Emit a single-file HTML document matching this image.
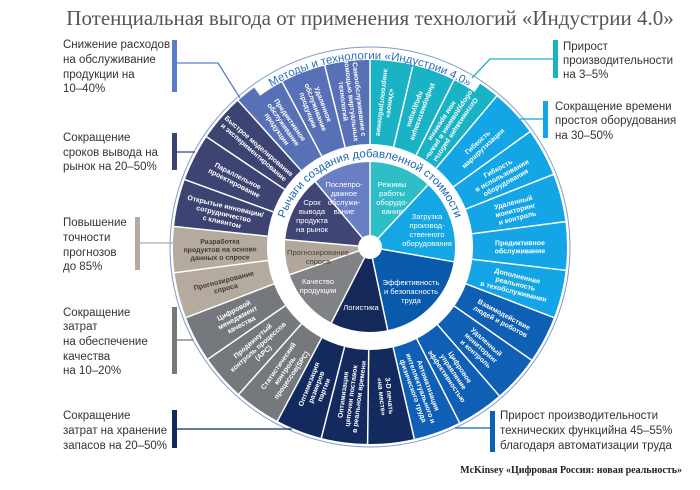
<!DOCTYPE html>
<html><head><meta charset="utf-8"><style>
html,body{margin:0;padding:0;background:#fff;width:700px;height:490px;overflow:hidden}
svg{display:block}
.lab{font-family:"Liberation Sans",sans-serif;font-size:11.5px;fill:#333}
.seg{font-family:"Liberation Sans",sans-serif;font-size:7px;font-weight:bold;fill:#fff;text-anchor:middle}
.in{font-family:"Liberation Sans",sans-serif;font-size:7.6px;fill:#fff;text-anchor:middle}
</style></head><body>
<svg width="700" height="490" viewBox="0 0 700 490" xmlns="http://www.w3.org/2000/svg">
<text x="370" y="25" text-anchor="middle" style="font-family:'Liberation Serif',serif;font-size:21px;fill:#555">Потенциальная выгода от применения технологий «Индустрии 4.0»</text>

<circle cx="370" cy="247" r="200" fill="none" stroke="#7f9bc6" stroke-width="1"/>
<g transform="translate(370 247)">
 <g fill="none" stroke-width="94">
  <circle r="150" stroke="#1ab3c5" stroke-dasharray="104.7 2000" transform="rotate(-90)"/>
  <circle r="150" stroke="#14a5e6" stroke-dasharray="185.9 2000" transform="rotate(-50)"/>
  <circle r="150" stroke="#0f5fb4" stroke-dasharray="146.6 2000" transform="rotate(21)"/>
  <circle r="150" stroke="#132a5e" stroke-dasharray="107.3 2000" transform="rotate(77)"/>
  <circle r="150" stroke="#75787d" stroke-dasharray="107.3 2000" transform="rotate(118)"/>
  <circle r="150" stroke="#b5aa9e" stroke-dasharray="70.7 2000" transform="rotate(159)"/>
  <circle r="150" stroke="#3e4472" stroke-dasharray="110 2000" transform="rotate(186)"/>
  <circle r="150" stroke="#5870b6" stroke-dasharray="110 2000" transform="rotate(228)"/>
 </g>
 <circle r="192.5" fill="none" stroke="#fff" stroke-width="11" stroke-dasharray="235 2000" transform="rotate(-126)"/>
 <g fill="none" stroke-width="85">
  <circle r="42.5" stroke="#2ebfc6" stroke-dasharray="31.9 2000" transform="rotate(-90)"/>
  <circle r="42.5" stroke="#15a6e4" stroke-dasharray="42.3 2000" transform="rotate(-47)"/>
  <circle r="42.5" stroke="#0a5aab" stroke-dasharray="50.4 2000" transform="rotate(10)"/>
  <circle r="42.5" stroke="#14285a" stroke-dasharray="28.9 2000" transform="rotate(78)"/>
  <circle r="42.5" stroke="#808285" stroke-dasharray="32.6 2000" transform="rotate(117)"/>
  <circle r="42.5" stroke="#b0a69a" stroke-dasharray="17.8 2000" transform="rotate(161)"/>
  <circle r="42.5" stroke="#3f4574" stroke-dasharray="33.4 2000" transform="rotate(185)"/>
  <circle r="42.5" stroke="#6a7ec6" stroke-dasharray="29.7 2000" transform="rotate(230)"/>
 </g>
 <circle r="12" fill="#fff"/>
 <g stroke="#fff" stroke-width="1.5">
  <line x1="103" x2="199" transform="rotate(-90)"/><line x1="103" x2="199" transform="rotate(-76.7)"/><line x1="103" x2="199" transform="rotate(-63.3)"/>
  <line x1="103" x2="199" transform="rotate(-50)"/><line x1="103" x2="199" transform="rotate(-35.8)"/><line x1="103" x2="199" transform="rotate(-21.6)"/><line x1="103" x2="199" transform="rotate(-7.4)"/><line x1="103" x2="199" transform="rotate(6.8)"/>
  <line x1="103" x2="199" transform="rotate(21)"/><line x1="103" x2="199" transform="rotate(35)"/><line x1="103" x2="199" transform="rotate(49)"/><line x1="103" x2="199" transform="rotate(63)"/>
  <line x1="103" x2="199" transform="rotate(77)"/><line x1="103" x2="199" transform="rotate(90.7)"/><line x1="103" x2="199" transform="rotate(104.3)"/>
  <line x1="103" x2="199" transform="rotate(118)"/><line x1="103" x2="199" transform="rotate(131.7)"/><line x1="103" x2="199" transform="rotate(145.3)"/>
  <line x1="103" x2="199" transform="rotate(159)"/><line x1="103" x2="199" transform="rotate(172.5)"/>
  <line x1="103" x2="199" transform="rotate(186)"/><line x1="103" x2="199" transform="rotate(200)"/><line x1="103" x2="199" transform="rotate(214)"/>
  <line x1="103" x2="199" transform="rotate(228)"/><line x1="103" x2="199" transform="rotate(242)"/><line x1="103" x2="199" transform="rotate(256)"/>
 </g>
 <g stroke="#fff" stroke-width="1.5">
  <line x1="12" x2="86" transform="rotate(-90)"/><line x1="12" x2="86" transform="rotate(-47)"/><line x1="12" x2="86" transform="rotate(10)"/><line x1="12" x2="86" transform="rotate(78)"/>
  <line x1="12" x2="86" transform="rotate(117)"/><line x1="12" x2="86" transform="rotate(161)"/><line x1="12" x2="86" transform="rotate(185)"/><line x1="12" x2="86" transform="rotate(230)"/>
 </g>

 <text class="seg" transform="rotate(-83.3) translate(145 0) rotate(180)"><tspan x="0" dy="-1">«Умное»</tspan><tspan x="0" dy="8">энергопотребление</tspan></text>
 <text class="seg" transform="rotate(-70) translate(145 0) rotate(180)"><tspan x="0" dy="-1">Информатизация</tspan><tspan x="0" dy="8">продукции</tspan></text>
 <text class="seg" transform="rotate(-56.7) translate(145 0) rotate(180)"><tspan x="0" dy="-5">Оптимизация работы</tspan><tspan x="0" dy="8">оборудования в реаль-</tspan><tspan x="0" dy="8">ном времени</tspan></text>
 <text class="seg" transform="rotate(-42.9) translate(150 0)"><tspan x="0" dy="-1">Гибкость</tspan><tspan x="0" dy="8">маршрутизации</tspan></text>
 <text class="seg" transform="rotate(-28.7) translate(150 0)"><tspan x="0" dy="-5">Гибкость</tspan><tspan x="0" dy="8">в использовании</tspan><tspan x="0" dy="8">оборудования</tspan></text>
 <text class="seg" transform="rotate(-14.5) translate(150 0)"><tspan x="0" dy="-5">Удаленный</tspan><tspan x="0" dy="8">мониторинг</tspan><tspan x="0" dy="8">и контроль</tspan></text>
 <text class="seg" transform="rotate(-0.3) translate(150 0)"><tspan x="0" dy="-1">Предиктивное</tspan><tspan x="0" dy="8">обслуживание</tspan></text>
 <text class="seg" transform="rotate(13.9) translate(150 0)"><tspan x="0" dy="-5">Дополненная</tspan><tspan x="0" dy="8">реальность</tspan><tspan x="0" dy="8">в техобслуживании</tspan></text>
 <text class="seg" transform="rotate(28) translate(150 0)"><tspan x="0" dy="-1">Взаимодействие</tspan><tspan x="0" dy="8">людей и роботов</tspan></text>
 <text class="seg" transform="rotate(42) translate(150 0)"><tspan x="0" dy="-5">Удаленный</tspan><tspan x="0" dy="8">мониторинг</tspan><tspan x="0" dy="8">и контроль</tspan></text>
 <text class="seg" transform="rotate(56) translate(150 0)"><tspan x="0" dy="-5">Цифровое</tspan><tspan x="0" dy="8">управление</tspan><tspan x="0" dy="8">эффективностью</tspan></text>
 <text class="seg" transform="rotate(70) translate(150 0)"><tspan x="0" dy="-5">Автоматизация</tspan><tspan x="0" dy="8">интеллектуального и</tspan><tspan x="0" dy="8">физического труда</tspan></text>
 <text class="seg" transform="rotate(83.8) translate(150 0)"><tspan x="0" dy="-1">3-D печать</tspan><tspan x="0" dy="8">«на месте»</tspan></text>
 <text class="seg" transform="rotate(97.5) translate(150 0) rotate(180)"><tspan x="0" dy="-5">Оптимизация</tspan><tspan x="0" dy="8">цепочки поставок</tspan><tspan x="0" dy="8">в реальном времени</tspan></text>
 <text class="seg" transform="rotate(111.2) translate(150 0) rotate(180)"><tspan x="0" dy="-5">Оптимизация</tspan><tspan x="0" dy="8">размеров</tspan><tspan x="0" dy="8">партии</tspan></text>
 <text class="seg" transform="rotate(124.8) translate(150 0) rotate(180)"><tspan x="0" dy="-5">Статистический</tspan><tspan x="0" dy="8">контроль</tspan><tspan x="0" dy="8">процессов(SPC)</tspan></text>
 <text class="seg" transform="rotate(138.5) translate(150 0) rotate(180)"><tspan x="0" dy="-5">Продвинутый</tspan><tspan x="0" dy="8">контроль процессов</tspan><tspan x="0" dy="8">(APC)</tspan></text>
 <text class="seg" transform="rotate(152.2) translate(150 0) rotate(180)"><tspan x="0" dy="-5">Цифровой</tspan><tspan x="0" dy="8">менеджмент</tspan><tspan x="0" dy="8">качества</tspan></text>
 <text class="seg" style="fill:#3d3a38" transform="rotate(165.8) translate(150 0) rotate(180)"><tspan x="0" dy="-1">Прогнозирование</tspan><tspan x="0" dy="8">спроса</tspan></text>
 <text class="seg" style="fill:#3d3a38" transform="rotate(179.3) translate(150 0) rotate(180)"><tspan x="0" dy="-5">Разработка</tspan><tspan x="0" dy="8">продуктов на основе</tspan><tspan x="0" dy="8">данных о спросе</tspan></text>
 <text class="seg" transform="rotate(193) translate(150 0) rotate(180)"><tspan x="0" dy="-5">Открытые инновации/</tspan><tspan x="0" dy="8">сотрудничество</tspan><tspan x="0" dy="8">с клиентом</tspan></text>
 <text class="seg" transform="rotate(207) translate(150 0) rotate(180)"><tspan x="0" dy="-1">Параллельное</tspan><tspan x="0" dy="8">проектирование</tspan></text>
 <text class="seg" transform="rotate(221) translate(150 0) rotate(180)"><tspan x="0" dy="-1">Быстрое моделирование</tspan><tspan x="0" dy="8">и экспериментирование</tspan></text>
 <text class="seg" transform="rotate(235) translate(150 0) rotate(180)"><tspan x="0" dy="-5">Предиктивное</tspan><tspan x="0" dy="8">обслуживание</tspan><tspan x="0" dy="8">продукции</tspan></text>
 <text class="seg" transform="rotate(249) translate(150 0) rotate(180)"><tspan x="0" dy="-5">Удаленное</tspan><tspan x="0" dy="8">обслуживание</tspan><tspan x="0" dy="8">продукции</tspan></text>
 <text class="seg" transform="rotate(263) translate(148 0) rotate(180)"><tspan x="0" dy="-5">Самообслуживание с</tspan><tspan x="0" dy="8">помощью виртуальных</tspan><tspan x="0" dy="8">технологий</tspan></text>
</g>

<defs>
 <path id="band" d="M281.4 231.4 A90 90 0 0 1 458.6 231.4"/>
 <path id="top" d="M237.1 114.1 A188 188 0 0 1 502.9 114.1"/>
</defs>
<text style="font-family:'Liberation Sans',sans-serif;font-size:11.5px;fill:#1e64b4"><textPath href="#band" startOffset="50%" text-anchor="middle">Рычаги создания добавленной стоимости</textPath></text>
<text style="font-family:'Liberation Sans',sans-serif;font-size:11.5px;fill:#2e6dbf"><textPath href="#top" startOffset="50%" text-anchor="middle">Методы и технологии «Индустрии 4.0»</textPath></text>

<text class="in" y="187"><tspan x="392">Режимы</tspan><tspan x="392" dy="9">работы</tspan><tspan x="392" dy="9">оборудо-</tspan><tspan x="392" dy="9">вания</tspan></text>
<text class="in" y="219"><tspan x="427">Загрузка</tspan><tspan x="427" dy="9">производ-</tspan><tspan x="427" dy="9">ственного</tspan><tspan x="427" dy="9">оборудования</tspan></text>
<text class="in" y="285"><tspan x="411">Эффективность</tspan><tspan x="411" dy="9">и безопасность</tspan><tspan x="411" dy="9">труда</tspan></text>
<text class="in" x="361" y="310">Логистика</text>
<text class="in" y="284"><tspan x="318">Качество</tspan><tspan x="318" dy="9">продукции</tspan></text>
<text class="in" y="255" style="fill:#4a4541"><tspan x="318">Прогнозирование</tspan><tspan x="318" dy="9">спроса</tspan></text>
<text class="in" y="205"><tspan x="312">Срок</tspan><tspan x="312" dy="9">вывода</tspan><tspan x="312" dy="9">продукта</tspan><tspan x="312" dy="9">на рынок</tspan></text>
<text class="in" y="187"><tspan x="344">Послепро-</tspan><tspan x="344" dy="9">дажное</tspan><tspan x="344" dy="9">обслужи-</tspan><tspan x="344" dy="9">вание</tspan></text>

<rect x="172" y="40" width="5" height="52" fill="#5b7dc6"/>
<polyline points="177,63 218,63 240,98" fill="none" stroke="#5b7dc6" stroke-width="1.3"/>
<text class="lab"><tspan x="63" y="48">Снижение расходов</tspan><tspan x="63" y="63">на обслуживание</tspan><tspan x="63" y="78">продукции на</tspan><tspan x="63" y="92">10–40%</tspan></text>

<rect x="172" y="133" width="5" height="37" fill="#3e4472"/>
<line x1="177" y1="152" x2="195" y2="152" stroke="#3e4472" stroke-width="1.3"/>
<text class="lab"><tspan x="63" y="141">Сокращение</tspan><tspan x="63" y="156">сроков вывода на</tspan><tspan x="63" y="170">рынок на 20–50%</tspan></text>

<rect x="135" y="217" width="5" height="53" fill="#b5aa9e"/>
<line x1="140" y1="243" x2="175" y2="243" stroke="#b5aa9e" stroke-width="1.3"/>
<text class="lab"><tspan x="63" y="226">Повышение</tspan><tspan x="63" y="241">точности</tspan><tspan x="63" y="256">прогнозов</tspan><tspan x="63" y="270">до 85%</tspan></text>

<rect x="172" y="307" width="5" height="67" fill="#75787d"/>
<line x1="177" y1="340" x2="193" y2="340" stroke="#75787d" stroke-width="1.3"/>
<text class="lab"><tspan x="63" y="316">Сокращение</tspan><tspan x="63" y="330">затрат</tspan><tspan x="63" y="345">на обеспечение</tspan><tspan x="63" y="360">качества</tspan><tspan x="63" y="374">на 10–20%</tspan></text>

<rect x="172" y="410" width="5" height="38" fill="#132a5e"/>
<line x1="177" y1="429" x2="292" y2="429" stroke="#132a5e" stroke-width="1.3"/>
<text class="lab"><tspan x="63" y="419">Сокращение</tspan><tspan x="63" y="434">затрат на хранение</tspan><tspan x="63" y="449">запасов на 20–50%</tspan></text>

<rect x="553" y="40" width="5" height="38" fill="#1ab3c5"/>
<polyline points="553,59 490,59 472,78" fill="none" stroke="#1ab3c5" stroke-width="1.3"/>
<text class="lab"><tspan x="563" y="50">Прирост</tspan><tspan x="563" y="64">производительности</tspan><tspan x="563" y="78">на 3–5%</tspan></text>

<rect x="543" y="101" width="5" height="37" fill="#14a5e6"/>
<line x1="520" y1="119" x2="543" y2="119" stroke="#14a5e6" stroke-width="1.3"/>
<text class="lab"><tspan x="555" y="110">Сокращение времени</tspan><tspan x="555" y="124">простоя оборудования</tspan><tspan x="555" y="139">на 30–50%</tspan></text>

<rect x="490" y="411" width="5" height="41" fill="#0f5fb4"/>
<line x1="455" y1="428" x2="490" y2="428" stroke="#0f5fb4" stroke-width="1.3"/>
<text class="lab"><tspan x="500" y="419">Прирост производительности</tspan><tspan x="500" y="434">технических функцийна 45–55%</tspan><tspan x="500" y="449">благодаря автоматизации труда</tspan></text>

<text x="682" y="473" text-anchor="end" style="font-family:'Liberation Serif',serif;font-size:10px;font-weight:bold;fill:#222">McKinsey «Цифровая Россия: новая реальность»</text>
</svg>
</body></html>
